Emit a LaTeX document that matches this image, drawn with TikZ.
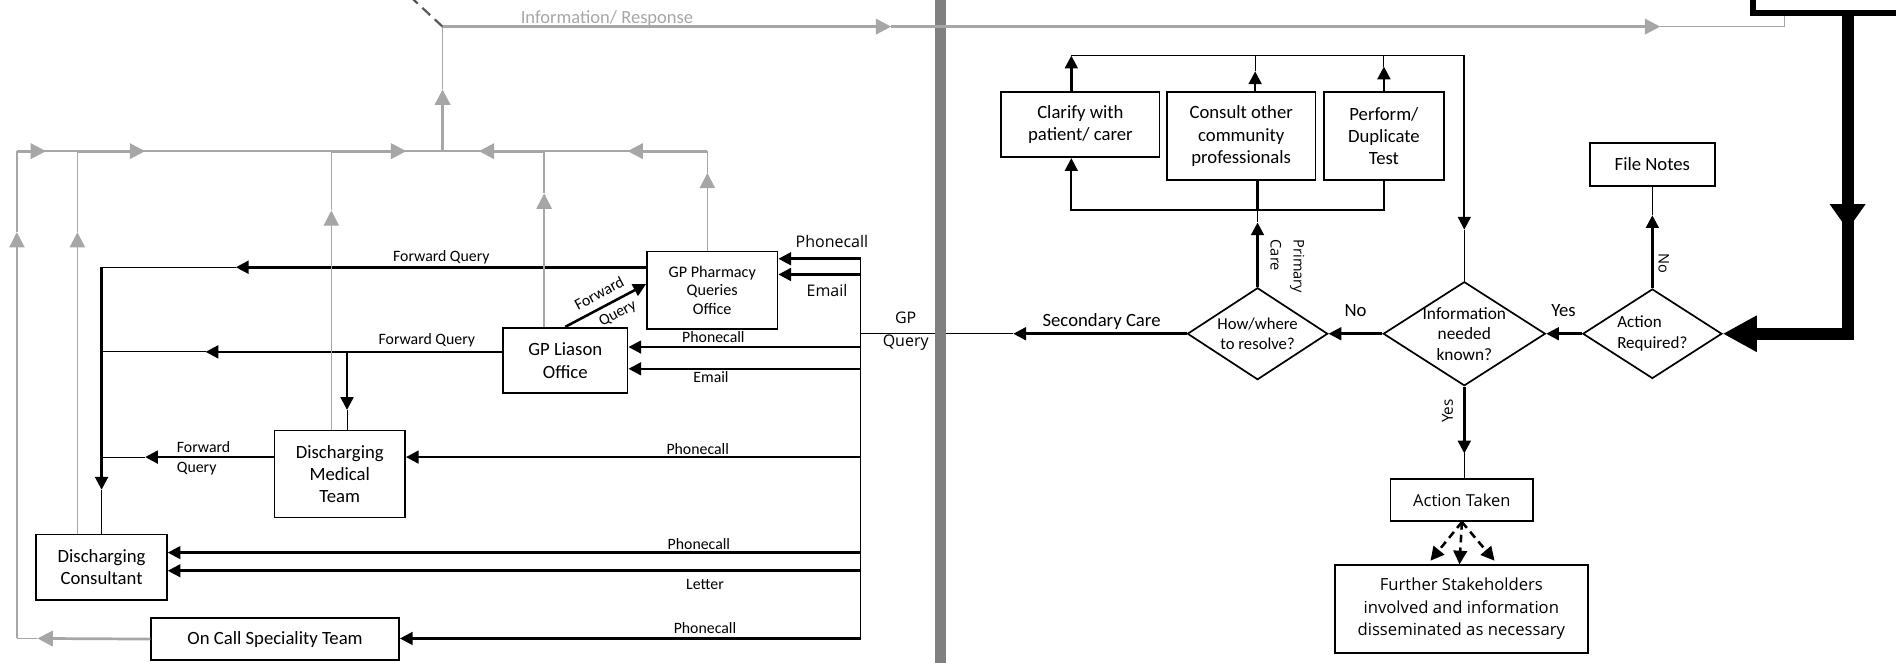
\documentclass[tikz,border=0pt]{standalone}
\usepackage{fontspec}
\setmainfont{Carlito}
\newfontfamily\segoe{Open Sans}
\usetikzlibrary{arrows.meta,shapes.geometric}
\definecolor{infogray}{HTML}{A6A6A6}
\definecolor{bargray}{HTML}{808080}
\definecolor{dashgray}{HTML}{595959}

\tikzset{
  box/.style={draw,line width=1pt,align=center,inner sep=0pt,font=\fontsize{11}{13}\selectfont},
  dec/.style={draw,diamond,line width=1pt,align=center,inner sep=-8pt,font=\fontsize{10.2}{12}\selectfont},
  conn/.style={line width=1.5pt},
  thin/.style={line width=0.6pt},
  info/.style={draw=infogray,line width=0.8pt},
  infothick/.style={draw=infogray,line width=1.6pt},
  garrow/.style={-{Triangle[length=9pt,width=9pt]}},
  lbl/.style={font=\fontsize{9.3}{11.7}\selectfont,inner sep=0pt},
  biglbl/.style={font=\fontsize{11}{13}\selectfont,inner sep=0pt},
  seglbl/.style={font=\segoe\fontsize{9.4}{13.5}\selectfont,inner sep=0pt},
}

\begin{document}
\begin{tikzpicture}[x=0.025cm,y=-0.025cm,>={Triangle[length=7.5pt,width=7.5pt]}]
\useasboundingbox (0,0) rectangle (1568,548);
\clip (0,0) rectangle (1568,548);

% hospital side
\node[box,minimum width=2.7cm,minimum height=1.6cm,font=\fontsize{9.5}{11}\selectfont] (pharm) at (589,240) {GP Pharmacy\\Queries\\Office};
\node[box,minimum width=2.575cm,minimum height=1.35cm,font=\fontsize{11}{13.5}\selectfont] (liason) at (467.5,298) {GP Liason\\Office};
\node[box,minimum width=2.7cm,minimum height=1.8cm] (medteam) at (281,392) {Discharging\\Medical\\Team};
\node[box,minimum width=2.7cm,minimum height=1.35cm] (consultant) at (84,469) {Discharging\\Consultant};
\node[box,minimum width=5.125cm,minimum height=0.875cm] (oncall) at (227.5,528.5) {On Call Speciality Team};

% community side
\node[box,minimum width=3.275cm,minimum height=1.35cm] (clarify) at (893.5,103) {Clarify with\\patient/ carer};
\node[box,minimum width=3.075cm,minimum height=1.825cm] (consult) at (1026.5,112.5) {Consult other\\community\\professionals};
\node[box,minimum width=2.475cm,minimum height=1.825cm] (perform) at (1144.5,112.5) {Perform/\\Duplicate\\Test};
\node[box,minimum width=2.575cm,minimum height=0.9cm] (filenotes) at (1366.5,136) {File Notes};
\node[box,minimum width=2.95cm,minimum height=0.875cm,font=\segoe\fontsize{9.7}{13}\selectfont] (taken) at (1209,413.5) {Action Taken};
\node[box,minimum width=5.225cm,minimum height=1.825cm,font=\segoe\fontsize{9.8}{13.1}\selectfont] (further) at (1208.5,503.5) {Further Stakeholders\\involved and information\\disseminated as necessary};

\node[dec,minimum width=2.9cm,minimum height=1.9cm,font=\fontsize{9.8}{11.7}\selectfont] (how) at (1040,276) {How/where\\to resolve?};
\node[dec,minimum width=3.35cm,minimum height=2.15cm] (info) at (1211,276) {Information\\needed\\known?};
\node[dec,minimum width=2.875cm,minimum height=1.85cm,align=left,font=\fontsize{10}{12.5}\selectfont] (actreq) at (1366.5,276) {Action\\Required?};

% junction points
\coordinate (qtop) at (712,214);
\coordinate (qbot) at (712,529);
\coordinate (gpq) at (712,276);
\coordinate (fqa) at (84,221);
\coordinate (fqb) at (84,291);
\coordinate (fqc) at (84,378);
\coordinate (fqatip) at (195,221);
\coordinate (fqbtip) at (170,291);
\coordinate (fqctip) at (120,378);
\coordinate (fqdtip) at (84,405);
\coordinate (medbr) at (287,291);
\coordinate (medbrtip) at (287,339);
\coordinate (gL) at (14,125);
\coordinate (gLb) at (14,528);
\coordinate (gLtip) at (14,192);
\coordinate (ontip) at (31,528);
\coordinate (gC) at (64,125);
\coordinate (gM) at (274,125);
\coordinate (gJ) at (366,125);
\coordinate (gJtip) at (366,74);
\coordinate (gI) at (450,125);
\coordinate (gP) at (585,125);
\coordinate (gtop) at (366,22);
\coordinate (gdash) at (338,-4);
\coordinate (gtipa) at (737,22);
\coordinate (gtipb) at (1373,22);
\coordinate (gend) at (1476,22);
\coordinate (gendup) at (1476,12);
\coordinate (sectip) at (838,276);
\coordinate (pctip) at (1040,184);
\coordinate (brk) at (886,174);
\coordinate (topL) at (886,46);
\coordinate (topR) at (1211,46);
\coordinate (infotip) at (1211,190);
\coordinate (cotip) at (1038,59);
\coordinate (petip) at (1144.5,55);
\coordinate (taketip) at (1211,375);
\coordinate (filetip) at (1366.5,178);
\coordinate (blkA) at (1450,-5);
\coordinate (blkB) at (1450,11);
\coordinate (blkC) at (1575,11);
\coordinate (blkD) at (1528,11);
\coordinate (blkDtip) at (1528,190);
\coordinate (blkE) at (1528,276);

% GP query trunk
\draw[thin] (qtop) -- (qbot);
\draw[thin] (sectip) -- (gpq);
\foreach \y/\n in {214/pharm,227/pharm,287/liason,305/liason,378/medteam,457/consultant,472/consultant,528/oncall}
  \draw[conn,->] (qtop |- 0,\y) -- (\n.east |- 0,\y);
\node[seglbl] (ph1) at (688,200) {Phonecall};
\node[seglbl] (em1) at (684,240) {Email};
\node[lbl] (ph2) at (590,279) {Phonecall};
\node[lbl] (em2) at (588,312) {Email};
\node[lbl] (ph3) at (577,371) {Phonecall};
\node[lbl] (ph4) at (578,450) {Phonecall};
\node[lbl] (let) at (583,483) {Letter};
\node[lbl] (ph5) at (583,519) {Phonecall};
\node[seglbl,align=center] (gpqlbl) at (749,274) {GP\\Query};

% forwarding
\draw[conn,->] (pharm.west |- fqa) -- (fqatip);
\draw[thin] (fqatip) -- (fqa);
\draw[conn,->] (fqa) -- (fqdtip);
\draw[thin] (fqdtip) -- (consultant.north);
\draw[conn,->] (liason.north) -- ([yshift=1.25mm]pharm.west)
  node[midway,sloped,align=right,inner sep=0pt,font=\fontsize{9.3}{15}\selectfont] (fqdiag) {Forward\\Query};
\draw[conn,->] (liason.west |- fqb) -- (fqbtip);
\draw[thin] (fqbtip) -- (fqb);
\draw[conn,->] (medbr) -- (medbrtip);
\draw[thin] (medbrtip) -- (medbrtip |- medteam.north);
\draw[conn,->] (medteam.west |- fqc) -- (fqctip);
\draw[thin] (fqctip) -- (fqc);
\node[lbl] (fqalbl) at (365,213) {Forward Query};
\node[lbl] (fqblbl) at (353,281) {Forward Query};
\node[lbl,align=left,anchor=west] (fqclbl) at (146,379) {Forward\\Query};

% information / response
\draw[info] (gL) -- (gP);
\foreach \c/\n/\t in {gC/consultant/192,gM/medteam/174,gI/liason/160,gP/pharm/143}{
  \draw[info,garrow] (\c |- \n.north) -- (\c |- 0,\t);
  \draw[info] (\c |- 0,\t) -- (\c);
}
\foreach \c/\t in {gL/38,gC/120,gM/336,gI/396,gP/519}
  \draw[infothick,garrow] (\c) -- (\t,125);
\draw[infothick,garrow] (oncall.west) -- (ontip);
\draw[info] (ontip) -- (gLb);
\draw[info,garrow] (gLb) -- (gLtip);
\draw[info] (gLtip) -- (gL);
\draw[infothick,garrow] (gJ) -- (gJtip);
\draw[info] (gJtip) -- (gtop);
\draw[dashgray,line width=1.3pt,dash pattern=on 2.2mm off 1.3mm] (gtop) -- (gdash);

% divider
\fill[bargray] (773,-2) rectangle (782,550);

\draw[infothick,garrow] (gtop) -- (gtipa);
\draw[infothick,garrow] (gtipa) -- (gtipb);
\draw[info] (gtipb) -- (gend) -- (gendup);
\node[font=\fontsize{10.9}{13}\selectfont,text=infogray,inner sep=0pt] (inforesp) at (502,15) {Information/ Response};

% incoming query
\draw[line width=3.5pt] (blkA) -- (blkB) -- (blkC);
\draw[line width=7pt,-{Triangle[length=20pt,width=20pt]}] (blkD) -- (blkE) -- (actreq.east |- blkE);
\draw[line width=7pt,-{Triangle[length=15pt,width=20pt]}] (blkD) -- (blkDtip);

% decisions
\draw[conn,->] (actreq.west) -- (info.east);
\draw[conn,->] (info.west) -- (how.east);
\draw[conn,->] (how.west) -- (sectip);
\node[biglbl] (yes1) at (1293,257) {Yes};
\node[biglbl] (no1) at (1121,257) {No};
\node[biglbl] (seclbl) at (911,266) {Secondary Care};

\draw[conn,->] (how.north) -- (pctip);
\draw[conn] (pctip |- consult.south) -- (pctip |- brk);
\draw[thin] (pctip |- brk) -- (pctip);
\draw[line width=1.1pt,->] (perform.south) |- (brk) -- (brk |- clarify.south);
\node[seglbl,rotate=-90,align=left,anchor=north west,font=\segoe\fontsize{8.6}{13.5}\selectfont] (pclbl) at (1079,198) {Primary\\Care};

\draw[conn,->] (topL |- clarify.north) -- (topL);
\draw[conn,->] (cotip |- consult.north) -- (cotip);
\draw[thin] (cotip) -- (cotip |- topL);
\draw[conn,->] (perform.north) -- (petip);
\draw[thin] (petip) -- (petip |- topL);
\draw[line width=1pt,->] (topL) -- (topR) -- (infotip);
\draw[thin] (infotip) -- (info.north);

\draw[conn,->] (info.south) -- (taketip);
\draw[thin] (taketip) -- (taketip |- taken.north);
\node[seglbl,rotate=90,font=\segoe\fontsize{9}{11}\selectfont] (yes2) at (1197,340) {Yes};

\draw[conn,->] (actreq.north) -- (filetip);
\draw[thin] (filetip) -- (filenotes.south);
\node[seglbl,rotate=-90,font=\segoe\fontsize{8.6}{11}\selectfont] (no2) at (1376,218) {No};

\foreach \dx/\dy in {-26/32,-2/35,27/32}
  \draw[line width=1.5pt,dash pattern=on 4.5pt off 3pt,-{Triangle[length=8pt,width=8pt]}] (taken.south) -- ++(\dx,\dy);
\end{tikzpicture}
\end{document}
